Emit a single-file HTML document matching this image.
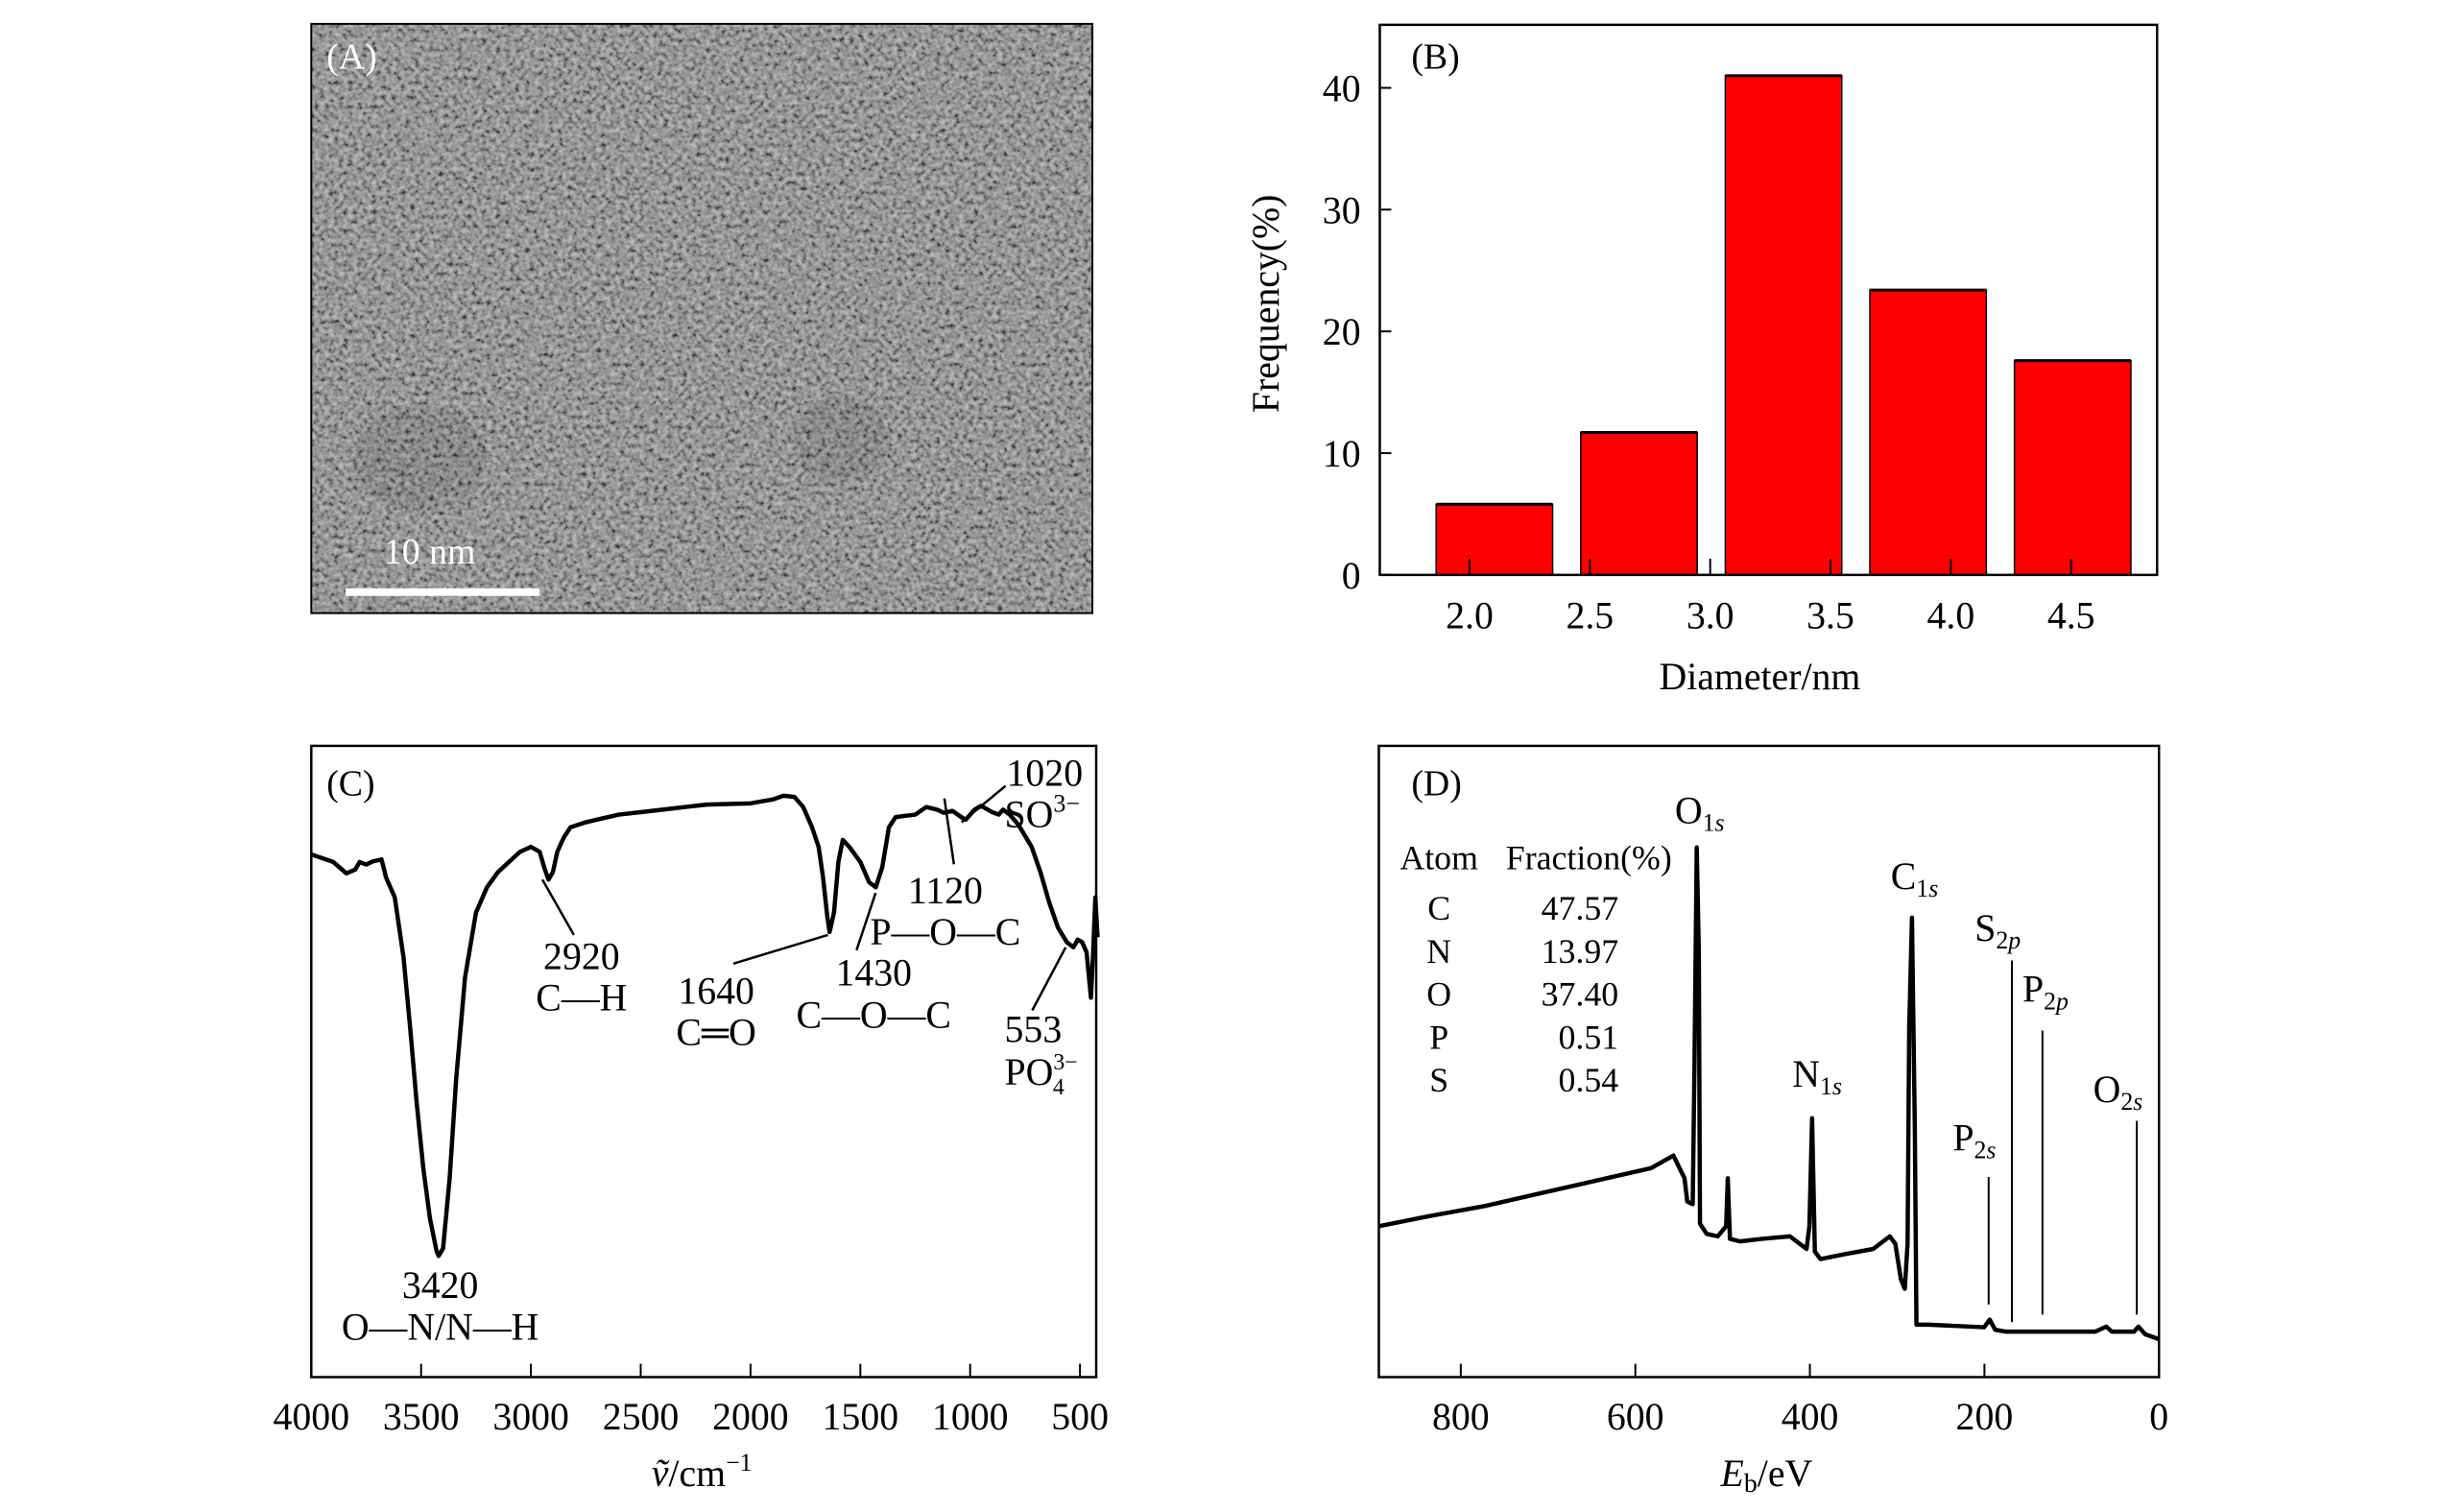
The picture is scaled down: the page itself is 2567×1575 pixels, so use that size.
<!DOCTYPE html>
<html><head><meta charset="utf-8">
<style>
html,body{margin:0;padding:0;background:#fff;}
svg{display:block;font-family:"Liberation Serif","Times New Roman",serif;}
</style></head>
<body>
<svg id="fig" width="2567" height="1575" viewBox="0 0 2567 1575" xmlns="http://www.w3.org/2000/svg">
<defs>
<filter id="grain" x="0" y="0" width="100%" height="100%">
<feTurbulence type="fractalNoise" baseFrequency="0.2" numOctaves="2" seed="7" result="n"/>
<feColorMatrix in="n" type="matrix" values="1.7 0 0 0 -0.4  1.7 0 0 0 -0.4  1.7 0 0 0 -0.4  0 0 0 0 1"/>
</filter>
</defs>
<g transform="scale(0.9948)">
<!-- Panel A -->
<g>
<rect x="326" y="25" width="818" height="617" fill="#7a7a7a"/>
<rect x="326" y="25" width="818" height="617" filter="url(#grain)" opacity="0.5"/>
<ellipse cx="440" cy="480" rx="70" ry="55" fill="#000" opacity="0.08"/>
<ellipse cx="880" cy="460" rx="50" ry="45" fill="#000" opacity="0.08"/>
<rect x="326" y="25" width="818" height="617" fill="none" stroke="#000" stroke-width="2"/>
<text x="342" y="72" font-size="38" fill="#fff">(A)</text>
<text x="402" y="590" font-size="38" fill="#fff">10 nm</text>
<rect x="362" y="616" width="203" height="8" fill="#fff"/>
</g>
<g id="pb"></g>
<g id="pc"></g>
<g id="pd"></g>
</g>
</svg>
<script>
// ---------- Panel B data ----------
const diamCategories = ["2.0","2.5","3.0","3.5","4.0","4.5"];
const freqTicks = [0,10,20,30,40];
const freqValues = [5.8,11.7,41.0,23.4,17.6];
// ---------- Panel C data ----------
const wnTicks = [4000,3500,3000,2500,2000,1500,1000,500];
const irWavenumber = [4000,3900,3840,3800,3780,3750,3720,3680,3660,3620,3580,3550,3520,3490,3460,3430,3420,3400,3370,3340,3300,3250,3200,3150,3100,3050,3000,2960,2940,2920,2900,2880,2850,2820,2750,2700,2600,2500,2400,2300,2200,2000,1900,1850,1800,1760,1720,1690,1670,1650,1640,1620,1600,1580,1550,1500,1460,1430,1400,1370,1340,1300,1250,1200,1150,1120,1080,1040,1020,980,950,900,870,850,820,780,720,680,640,600,560,530,510,490,470,450,440,430,420];
const irTransmittance = [82.8,81.6,79.8,80.4,81.6,81.2,81.7,82.0,79.2,76.0,66.5,55.4,43.4,33.1,25.2,20.0,19.2,20.4,31.5,47.4,63.3,73.6,77.6,80.0,81.6,83.2,84.0,83.2,80.8,78.8,80.0,83.2,85.5,87.1,87.9,88.3,89.1,89.5,89.9,90.3,90.7,90.9,91.5,92.1,91.9,90.3,87.1,84.0,79.2,72.8,70.5,73.6,81.6,85.1,84.0,81.6,78.4,77.6,80.8,87.1,88.7,88.9,89.1,90.3,89.9,89.4,89.7,88.7,88.3,89.9,90.5,89.5,89.1,89.9,89.1,87.5,84.0,80.0,75.2,71.2,68.9,68.1,69.3,68.9,67.3,60.1,67.3,76.0,69.7];
// ---------- Panel D data ----------
const ebTicks = [800,600,400,200,0];
const xpsEnergy = [897,836.2,772.7,709.1,645.5,581.9,556.4,543.7,540.5,534.2,532.3,529.7,527.2,525.9,518.3,505.6,496.0,494.1,491.6,480.1,454.7,422.9,403.8,400.6,397.5,394.3,387.9,359.3,327.5,308.4,302.1,295.7,291.3,288.1,286.2,283.0,279.8,277.9,263.9,200.3,194.0,187.6,174.9,73.1,60.4,54.1,28.6,23.5,15.9,0];
const xpsIntensity = [23.9,25.5,27.1,29.1,31.1,33.1,35.1,31.5,27.8,27.4,48.9,83.9,67.3,24.3,22.7,22.3,23.9,31.5,21.9,21.5,21.9,22.3,20.3,23.9,41.0,19.9,18.7,19.5,20.3,22.3,21.1,15.5,14.0,21.1,55.3,72.8,39.4,8.3,8.3,7.9,9.1,7.5,7.2,7.2,8.0,7.2,7.2,8.0,6.8,6.0];
const markerEnergy = [195.2,168.5,133.5,25.4];
const markerTop = [31.7,66.0,54.9,40.6];
const markerBottom = [11.5,8.7,9.9,9.9];
const atomNames = ["C","N","O","P","S"];
const atomFractions = ["47.57","13.97","37.40","0.51","0.54"];

const NS="http://www.w3.org/2000/svg";
function mk(parent,tag,attrs,text){const e=document.createElementNS(NS,tag);for(const k in attrs)e.setAttribute(k,attrs[k]);if(text!==undefined)e.textContent=text;parent.appendChild(e);return e;}

// ===== Panel B =====
(function(){
const g=document.getElementById('pb');
const L=1445,R=2259,T=26,B=602;
const y=v=>B-v*12.75;
const xt=i=>1539+i*126;
const xb=i=>1565+i*151.4;
freqValues.forEach((v,i)=>{
 const r=mk(g,'rect',{x:xb(i)-61,y:y(v),width:122,height:B-y(v),fill:'#ff0000',stroke:'#000','stroke-width':1.5});
 
 
 const t=mk(g,'line',{x1:xb(i)-61,x2:xb(i)+61,y1:y(v),y2:y(v),stroke:'#000','stroke-width':3});
 
 
});
const f=mk(g,'rect',{x:L,y:T,width:R-L,height:B-T,fill:'none',stroke:'#000','stroke-width':2.5});


diamCategories.forEach((c,i)=>{
 const tk=mk(g,'line',{x1:xt(i),x2:xt(i),y1:B,y2:B-17,stroke:'#000','stroke-width':2});
 
 
 const lb=mk(g,'text',{x:xt(i),y:658,'font-size':40,'text-anchor':'middle'},c);
 
 
});
freqTicks.forEach(v=>{
 const tk=mk(g,'line',{x1:L,x2:L+12,y1:y(v),y2:y(v),stroke:'#000','stroke-width':2});
 
 
 const lb=mk(g,'text',{x:1425,y:y(v)+14,'font-size':40,'text-anchor':'end'},String(v));
 
 
});
const xl=mk(g,'text',{x:1843,y:722,'font-size':40,'text-anchor':'middle'},'Diameter/nm');


const yl=mk(g,'text',{x:0,y:0,'font-size':40,'text-anchor':'middle',transform:'translate(1339,318) rotate(-90)'},'Frequency(%)');


const pl=mk(g,'text',{x:1478,y:72,'font-size':38},'(B)');


})();

// ===== Panel C =====
(function(){
const g=document.getElementById('pc');
const L=326,R=1148,T=781,B=1442;
const x=w=>L+(4000-w)*0.2300;
const y=v=>B-v*(B-T)/100;
let d='';
irWavenumber.forEach((w,i)=>{d+=(i?'L':'M')+x(w).toFixed(1)+','+y(irTransmittance[i]).toFixed(1);});
const p=mk(g,'path',{d:d,fill:'none',stroke:'#000','stroke-width':4.5,'stroke-linejoin':'round'});


const f=mk(g,'rect',{x:L,y:T,width:R-L,height:B-T,fill:'none',stroke:'#000','stroke-width':2.5});


wnTicks.forEach(w=>{
 if(w!==4000){const tk=mk(g,'line',{x1:x(w),x2:x(w),y1:B,y2:B-14,stroke:'#000','stroke-width':2});
 
 }
 const lb=mk(g,'text',{x:x(w),y:1497,'font-size':40,'text-anchor':'middle'},String(w));
 
 
});
const xl=mk(g,'text',{x:735,y:1556,'font-size':40,'text-anchor':'middle'});


xl.innerHTML='<tspan font-style="italic">ṽ</tspan>/cm<tspan font-size="26" dy="-16">−1</tspan>';
const pl=mk(g,'text',{x:342,y:833,'font-size':38},'(C)');


const leaders=[[568,921,601,979],[867,979,768,1009],[917,935,897,995],[989,836,999,905],[1007,861,1053,823],[1116,992,1081,1058]];
leaders.forEach(a=>{
 const l=mk(g,'line',{x1:a[0],y1:a[1],x2:a[2],y2:a[3],stroke:'#000','stroke-width':2.5});
 
 
});
const labels=[[609,1015,'2920'],[609,1058,'C—H'],[750,1051,'1640'],[750,1094,'C═O'],[915,1032,'1430'],[915,1076,'C—O—C'],[990,946,'1120'],[990,989,'P—O—C'],[1094,823,'1020'],[1082,1091,'553'],[461,1359,'3420'],[461,1403,'O—N/N—H']];
labels.forEach(a=>{
 const t=mk(g,'text',{x:a[0],y:a[1],'font-size':40,'text-anchor':'middle'},a[2]);
 
 
});
const so=mk(g,'text',{x:1052,y:866,'font-size':40});


so.innerHTML='SO<tspan font-size="26" dy="-16">3−</tspan>';
const po=mk(g,'text',{x:1052,y:1136,'font-size':40});


po.innerHTML='PO<tspan font-size="24" dy="-16">3−</tspan><tspan font-size="24" dx="-26" dy="26">4</tspan>';
})();

// ===== Panel D =====
(function(){
const g=document.getElementById('pd');
const L=1444,R=2261,T=781,B=1442;
const x=e=>R-e*0.914;
const y=v=>B-v*(B-T)/100;
let d='';
xpsEnergy.forEach((e,i)=>{d+=(i?'L':'M')+Math.max(L,x(e)).toFixed(1)+','+y(xpsIntensity[i]).toFixed(1);});
const p=mk(g,'path',{d:d,fill:'none',stroke:'#000','stroke-width':4.5,'stroke-linejoin':'round'});


markerEnergy.forEach((e,i)=>{
 const l=mk(g,'line',{x1:x(e),x2:x(e),y1:y(markerTop[i]),y2:y(markerBottom[i]),stroke:'#000','stroke-width':2});
 
 
});
const f=mk(g,'rect',{x:L,y:T,width:R-L,height:B-T,fill:'none',stroke:'#000','stroke-width':2.5});


ebTicks.forEach(e=>{
 const tk=mk(g,'line',{x1:x(e),x2:x(e),y1:B,y2:B-14,stroke:'#000','stroke-width':2});
 
 
 const lb=mk(g,'text',{x:x(e),y:1497,'font-size':40,'text-anchor':'middle'},String(e));
 
 
});
const xl=mk(g,'text',{x:1850,y:1556,'font-size':40,'text-anchor':'middle'});


xl.innerHTML='<tspan font-style="italic">E</tspan><tspan font-size="28" dy="6">b</tspan><tspan dy="-6">/eV</tspan>';
const pl=mk(g,'text',{x:1478,y:833,'font-size':38},'(D)');


const peaks=[[1754,862,'O','1s'],[1980,931,'C','1s'],[2068,985,'S','2p'],[2118,1049,'P','2p'],[1877,1138,'N','1s'],[2045,1205,'P','2s'],[2192,1154,'O','2s']];
peaks.forEach(a=>{
 const t=mk(g,'text',{x:a[0],y:a[1],'font-size':40});
 
 
 t.innerHTML=a[2]+'<tspan font-size="26" dy="8">'+a[3].charAt(0)+'</tspan><tspan font-size="26" font-style="italic">'+a[3].charAt(1)+'</tspan>';
});
const h1=mk(g,'text',{x:1466,y:910,'font-size':36},'Atom');


const h2=mk(g,'text',{x:1577,y:910,'font-size':36},'Fraction(%)');


atomNames.forEach((a,i)=>{
 const yy=963+i*45;
 const t=mk(g,'text',{x:1507,y:yy,'font-size':36,'text-anchor':'middle'},a);
 
 
 const v=mk(g,'text',{x:1695,y:yy,'font-size':36,'text-anchor':'end'},atomFractions[i]);
 
 
});
})();
</script>
</body></html>
